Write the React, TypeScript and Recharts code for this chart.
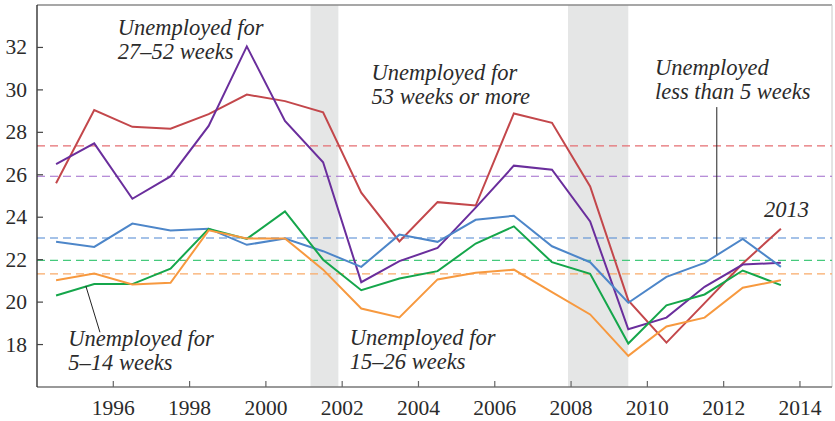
import React from 'react';
import { LineChart, Line, XAxis, YAxis, ReferenceArea, ReferenceLine, ReferenceDot } from 'recharts';

const years = [1994.5, 1995.5, 1996.5, 1997.5, 1998.5, 1999.5, 2000.5, 2001.5, 2002.5, 2003.5, 2004.5, 2005.5, 2006.5, 2007.5, 2008.5, 2009.5, 2010.5, 2011.5, 2012.5, 2013.5];
const lessThan5 = [22.84, 22.6, 23.7, 23.37, 23.46, 22.7, 23.0, 22.4, 21.66, 23.18, 22.84, 23.88, 24.07, 22.63, 21.88, 19.97, 21.19, 21.85, 22.98, 21.66];
const weeks5to14 = [20.31, 20.85, 20.85, 21.58, 23.45, 22.98, 24.27, 22.0, 20.56, 21.11, 21.46, 22.76, 23.57, 21.88, 21.33, 18.05, 19.85, 20.36, 21.49, 20.8];
const weeks15to26 = [21.03, 21.35, 20.83, 20.91, 23.38, 23.0, 23.0, 21.53, 19.7, 19.28, 21.07, 21.38, 21.53, 20.47, 19.42, 17.47, 18.85, 19.27, 20.68, 21.03];
const weeks27to52 = [26.5, 27.48, 24.87, 25.92, 28.3, 32.05, 28.54, 26.59, 20.94, 21.93, 22.55, 24.45, 26.43, 26.24, 23.8, 18.72, 19.27, 20.72, 21.77, 21.85];
const weeks53plus = [25.6, 29.05, 28.26, 28.17, 28.86, 29.78, 29.47, 28.94, 25.16, 22.86, 24.71, 24.55, 28.89, 28.45, 25.45, 20.08, 18.09, 19.95, 21.82, 23.46];

const averages = { lessThan5: 23.02, weeks5to14: 21.97, weeks15to26: 21.33, weeks27to52: 25.93, weeks53plus: 27.36 };
const recessions: [number, number][] = [[2001.17, 2001.9], [2007.92, 2009.5]];
const xTicks = [1996, 1998, 2000, 2002, 2004, 2006, 2008, 2010, 2012, 2014];
const yTicks = [18, 20, 22, 24, 26, 28, 30, 32];
const X_MIN = 1994;
const X_MAX = 2014.84;

const data = years.map((year, i) => ({
  year,
  lessThan5: lessThan5[i],
  weeks5to14: weeks5to14[i],
  weeks15to26: weeks15to26[i],
  weeks27to52: weeks27to52[i],
  weeks53plus: weeks53plus[i],
}));

const series = [
  { key: 'weeks53plus', color: '#c3474b', dash: '#e56e72' },
  { key: 'weeks27to52', color: '#6a2e9c', dash: '#a06acb' },
  { key: 'lessThan5', color: '#4d86c9', dash: '#4d86d2' },
  { key: 'weeks5to14', color: '#15a64b', dash: '#45c97c' },
  { key: 'weeks15to26', color: '#f7993f', dash: '#f9aa68' },
];

const annotations = [
  { x: 1996.12, y: 32.57, lines: ['Unemployed for', '27\u201352 weeks'] },
  { x: 2002.77, y: 30.46, lines: ['Unemployed for', '53 weeks or more'] },
  { x: 2010.2, y: 30.7, lines: ['Unemployed', 'less than 5 weeks'] },
  { x: 2013.06, y: 24.01, lines: ['2013'] },
  { x: 1994.82, y: 17.93, lines: ['Unemployed for', '5\u201314 weeks'] },
  { x: 2002.2, y: 17.97, lines: ['Unemployed for', '15\u201326 weeks'] },
];

const leaders = [
  [{ x: 2011.82, y: 29.19 }, { x: 2011.82, y: 22.24 }],
  [{ x: 1995.28, y: 20.76 }, { x: 1995.65, y: 18.58 }],
];

const TICK_FONT = { fontFamily: "'Liberation Serif'" };
const ITALIC_FONT = { fontFamily: "'Tinos'" };
const TEXT = '#2b2b2b';

const XTick = (props: any) => {
  const { x, y, payload } = props;
  return (
    <g>
      <line x1={x} x2={x} y1={y} y2={y - 6} stroke="#666" strokeWidth={1.2} />
      <text x={x} y={y + 28} textAnchor="middle" style={TICK_FONT} fontSize={21.5} fill={TEXT}>
        {payload.value}
      </text>
    </g>
  );
};

const YTick = (props: any) => {
  const { x, y, payload } = props;
  return (
    <g>
      <line x1={x} x2={x + 6} y1={y} y2={y} stroke="#444" strokeWidth={1.2} />
      <text x={x - 10} y={y + 7} textAnchor="end" style={TICK_FONT} fontSize={21.5} fill={TEXT}>
        {payload.value}
      </text>
    </g>
  );
};

const makeLabelShape = (lines: string[]) => (props: any) => {
  const { cx, cy } = props;
  return (
    <text x={cx} y={cy} style={ITALIC_FONT} fontSize={22.5} fontStyle="italic" fill={TEXT}>
      {lines.map((l, i) => (
        <tspan key={i} x={cx} dy={i === 0 ? 0 : 24}>
          {l}
        </tspan>
      ))}
    </text>
  );
};

export default function App() {
  return (
    <div style={{ position: 'absolute', left: 0, top: 0, background: '#fff' }}>
      <LineChart width={835} height={421} data={data} margin={{ top: 5, right: 3, bottom: 0, left: 0 }}>
        {recessions.map(([a, b], i) => (
          <ReferenceArea key={'r' + i} x1={a} x2={b} y1={16} y2={34} fill="#e5e6e6" fillOpacity={1} stroke="none" />
        ))}
        <XAxis
          type="number"
          dataKey="year"
          domain={[X_MIN, X_MAX]}
          ticks={xTicks}
          allowDataOverflow
          height={34}
          tickSize={0}
          tickMargin={0}
          tickLine={false}
          tick={<XTick />}
          axisLine={{ stroke: '#777', strokeWidth: 1.3 }}
          interval={0}
        />
        <YAxis
          type="number"
          domain={[16, 34]}
          ticks={yTicks}
          allowDataOverflow
          width={37}
          tickSize={0}
          tickMargin={0}
          tickLine={false}
          tick={<YTick />}
          axisLine={{ stroke: '#222', strokeWidth: 1.3 }}
          interval={0}
        />
        <ReferenceLine y={34} stroke="#8a8a8a" strokeWidth={1.5} />
        <ReferenceLine x={X_MAX} stroke="#c8c8c8" strokeWidth={1} />
        {series.map((s) => (
          <ReferenceLine
            key={'avg' + s.key}
            y={(averages as any)[s.key]}
            stroke={s.dash}
            strokeWidth={1.2}
            strokeDasharray="8 5"
          />
        ))}
        {series.map((s) => (
          <Line
            key={s.key}
            type="linear"
            dataKey={s.key}
            stroke={s.color}
            strokeWidth={2}
            dot={false}
            isAnimationActive={false}
          />
        ))}
        {leaders.map((seg, i) => (
          <ReferenceLine key={'l' + i} segment={seg} stroke="#222" strokeWidth={1} />
        ))}
        {annotations.map((a, i) => (
          <ReferenceDot key={'a' + i} x={a.x} y={a.y} r={0} shape={makeLabelShape(a.lines)} />
        ))}
      </LineChart>
    </div>
  );
}
